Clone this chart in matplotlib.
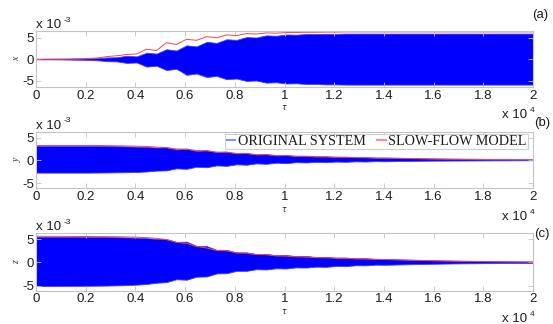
import matplotlib
matplotlib.use('Agg')
import matplotlib.pyplot as plt
from matplotlib.lines import Line2D

# ---------------- data (tau in units of 1e4, amplitudes in units of 1e-3) ----------------
tau = [0, 0.1, 0.2, 0.25, 0.285, 0.325, 0.365, 0.405, 0.445, 0.485,
       0.525, 0.565, 0.606, 0.646, 0.687, 0.727, 0.767, 0.807, 0.847, 0.887,
       0.927, 0.967, 1.007, 1.047, 1.087, 1.127, 1.167, 1.207, 1.247, 1.287,
       1.327, 1.367, 1.407, 1.5, 1.6, 1.7, 1.8, 1.9, 2.0]

x_upper = [0, 0.05, 0.15, 0.25, 0.4, 0.45, 0.8, 0.65, 1.5, 1.3,
           2.3, 2.0, 3.2, 2.95, 4.0, 3.75, 4.6, 4.45, 5.1, 5.0,
           5.5, 5.4, 5.7, 5.65, 5.8, 5.8, 5.85, 5.85, 5.9, 5.9,
           5.9, 5.9, 5.9, 5.9, 5.9, 5.9, 5.9, 5.9, 5.9]
x_lower = [0, -0.05, -0.15, -0.25, -0.45, -0.5, -0.85, -0.75, -1.7, -1.5,
           -2.5, -2.2, -3.6, -3.3, -4.1, -3.85, -4.6, -4.45, -5.0, -4.9,
           -5.4, -5.3, -5.6, -5.55, -5.7, -5.7, -5.8, -5.8, -5.85, -5.85,
           -5.85, -5.85, -5.85, -5.85, -5.85, -5.85, -5.85, -5.85, -5.85]
x_slow = [0, 0.05, 0.15, 0.3, 0.6, 0.8, 1.1, 1.2, 2.3, 2.0,
          3.8, 3.4, 4.6, 4.35, 5.2, 4.95, 5.6, 5.45, 5.9, 5.8,
          6.05, 6.0, 6.15, 6.15, 6.2, 6.2, 6.25, 6.25, 6.3, 6.3,
          6.3, 6.3, 6.3, 6.3, 6.3, 6.3, 6.3, 6.3, 6.3]

y_upper = [3.2, 3.2, 3.2, 3.2, 3.18, 3.15, 3.12, 3.05, 3.0, 2.85,
           2.9, 2.45, 2.6, 2.1, 2.25, 1.85, 1.95, 1.55, 1.65, 1.3,
           1.4, 1.1, 1.2, 0.95, 1.0, 0.85, 0.9, 0.75, 0.8, 0.68,
           0.7, 0.6, 0.6, 0.5, 0.4, 0.32, 0.27, 0.23, 0.2]
y_lower = [-2.7, -2.7, -2.7, -2.68, -2.66, -2.63, -2.6, -2.55, -2.45, -2.25,
           -2.2, -1.75, -1.85, -1.4, -1.5, -1.1, -1.2, -0.85, -0.95, -0.65,
           -0.75, -0.5, -0.6, -0.38, -0.45, -0.32, -0.38, -0.25, -0.3, -0.2,
           -0.24, -0.15, -0.18, -0.1, -0.05, -0.02, 0.0, 0.03, 0.05]
y_slow = [3.3, 3.3, 3.3, 3.3, 3.28, 3.25, 3.22, 3.15, 3.1, 2.95,
          2.85, 2.55, 2.5, 2.2, 2.15, 1.85, 1.85, 1.55, 1.55, 1.3,
          1.3, 1.1, 1.1, 0.95, 0.95, 0.85, 0.82, 0.75, 0.72, 0.65,
          0.62, 0.56, 0.54, 0.45, 0.37, 0.3, 0.24, 0.2, 0.16]

z_upper = [5.5, 5.48, 5.45, 5.43, 5.42, 5.4, 5.35, 5.3, 5.2, 5.05,
           5.0, 4.4, 4.45, 3.55, 3.5, 2.7, 2.7, 2.15, 2.15, 1.8,
           1.82, 1.55, 1.6, 1.35, 1.4, 1.17, 1.2, 1.02, 1.05, 0.88,
           0.9, 0.75, 0.75, 0.58, 0.45, 0.35, 0.27, 0.22, 0.18]
z_lower = [-5.05, -5.03, -5.0, -4.97, -4.95, -4.9, -4.85, -4.75, -4.6, -4.35,
           -4.2, -3.6, -3.7, -3.05, -3.0, -2.35, -2.3, -1.8, -1.8, -1.45,
           -1.5, -1.25, -1.3, -1.05, -1.1, -0.9, -0.95, -0.75, -0.8, -0.6,
           -0.62, -0.48, -0.5, -0.38, -0.28, -0.2, -0.15, -0.12, -0.1]
z_slow = [5.6, 5.58, 5.55, 5.53, 5.52, 5.5, 5.45, 5.4, 5.3, 5.15,
          4.9, 4.3, 4.1, 3.4, 3.1, 2.55, 2.5, 2.05, 2.0, 1.7,
          1.65, 1.4, 1.35, 1.2, 1.15, 1.02, 1.0, 0.9, 0.87, 0.78,
          0.75, 0.66, 0.63, 0.5, 0.38, 0.28, 0.2, 0.14, 0.1]

xticks = [0, 0.2, 0.4, 0.6, 0.8, 1.0, 1.2, 1.4, 1.6, 1.8, 2.0]
xtick_labels = ['0', '0.2', '0.4', '0.6', '0.8', '1', '1.2', '1.4', '1.6', '1.8', '2']
yticks = [-5, 0, 5]
ytick_labels = ['-5', '0', '5']
var_names = ['x', 'y', 'z']
panel_names = ['(a)', '(b)', '(c)']
legend_labels = ['ORIGINAL SYSTEM', 'SLOW-FLOW MODEL']

# ---------------- layout ----------------
W, H = 553, 324
fig = plt.figure(figsize=(W / 100, H / 100), dpi=100)

def fx(px):
    return px / W

def fy(py):
    return 1 - py / H

SANS = 'Liberation Sans'
SERIF = 'Liberation Serif'
GREY = '#c4c4c4'
TXT = '#1e1e1e'
BLUE = '#0000ff'
RED = '#ff4040'
FS = 9.5

left_px, right_px = 36, 533
panels = [
    dict(top=31, bottom=87, up=x_upper, lo=x_lower, slow=x_slow, ylim=(-6.4, 6.5)),
    dict(top=132, bottom=188, up=y_upper, lo=y_lower, slow=y_slow, ylim=(-6.1, 6.3)),
    dict(top=233, bottom=290.5, up=z_upper, lo=z_lower, slow=z_slow, ylim=(-6.0, 6.3)),
]

axes = []
for i, p in enumerate(panels):
    ax = fig.add_axes([fx(left_px), fy(p['bottom']), (right_px - left_px) / W,
                       (p['bottom'] - p['top']) / H])
    ax.fill_between(tau, p['lo'], p['up'], color=BLUE, lw=0.6, edgecolor='#4040ff')
    ax.plot(tau, p['slow'], color=RED, lw=0.7)
    ax.set_xlim(0, 2)
    ax.set_ylim(*p['ylim'])
    ax.set_xticks(xticks)
    ax.set_xticklabels(xtick_labels, family=SANS, fontsize=FS, color=TXT)
    ax.set_yticks(yticks)
    ax.set_yticklabels(ytick_labels, family=SANS, fontsize=FS, color=TXT)
    ax.tick_params(axis='both', direction='in', length=3.5, width=0.6, color=GREY,
                   top=True, right=True)
    ax.tick_params(axis='x', pad=2.0)
    ax.tick_params(axis='y', pad=1.5)
    for s in ax.spines.values():
        s.set_color(GREY)
        s.set_linewidth(0.8)
    axes.append(ax)

    # y label
    fig.text(fx(17), fy((p['top'] + p['bottom']) / 2), var_names[i], family=SERIF,
             style='italic', fontsize=7, rotation=90, ha='center', va='center', color='#333333')
    # x 10^-3
    fig.text(fx(36), fy(p['top'] - 6), 'x 10', family=SANS, fontsize=FS, ha='left',
             va='center', color=TXT)
    fig.text(fx(63.5), fy(p['top'] - 11), '-3', family=SANS, fontsize=6, ha='left',
             va='center', color=TXT)
    # x 10^4
    fig.text(fx(502), fy(p['bottom'] + 28.5), 'x 10', family=SANS, fontsize=FS, ha='left',
             va='center', color=TXT)
    fig.text(fx(530), fy(p['bottom'] + 24), '4', family=SANS, fontsize=6, ha='left',
             va='center', color=TXT)
    # tau label (below the "1" tick label)
    fig.text(fx(left_px + (right_px - left_px) / 2), fy(p['bottom'] + 21), r'$\tau$',
             fontsize=5.5, ha='center', va='center', color=TXT)

# panel labels
fig.text(fx(540), fy(15), panel_names[0], family=SANS, fontsize=FS, ha='center', va='center', color=TXT)
fig.text(fx(542), fy(123), panel_names[1], family=SANS, fontsize=FS, ha='center', va='center', color=TXT)
fig.text(fx(542), fy(234), panel_names[2], family=SANS, fontsize=FS, ha='center', va='center', color=TXT)

# legend on panel (b)
handles = [Line2D([], [], color='#8c8cff', lw=1.5), Line2D([], [], color='#ff8c8c', lw=1.5)]
leg = axes[1].legend(handles, legend_labels, loc='upper right', ncol=2,
                     bbox_to_anchor=(fx(528), fy(134)), bbox_transform=fig.transFigure,
                     prop={'family': SERIF, 'size': 10.2}, frameon=True, fancybox=False,
                     handlelength=0.6, handletextpad=0.2, columnspacing=0.8,
                     borderpad=0.08, borderaxespad=0)
leg.get_frame().set_edgecolor(GREY)
leg.get_frame().set_linewidth(0.8)
for t in leg.get_texts():
    t.set_color(TXT)

fig.savefig('out.png', dpi=100)
